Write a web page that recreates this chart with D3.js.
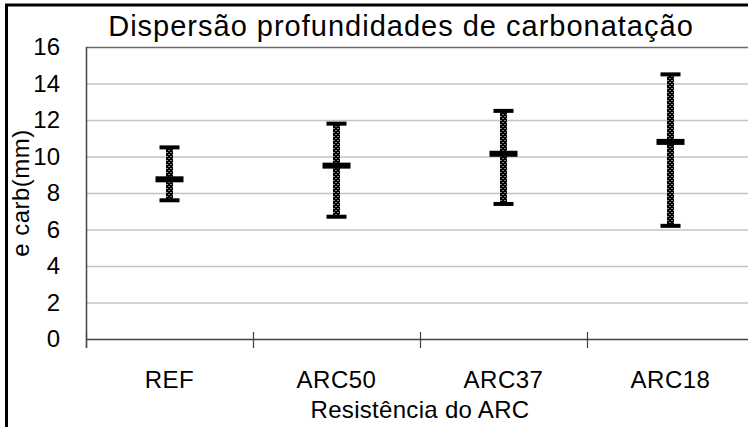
<!DOCTYPE html>
<html>
<head>
<meta charset="utf-8">
<script src="https://cdn.jsdelivr.net/npm/d3@7"></script>
<style>
  body { margin: 0; background: #fff; }
  svg { display: block; font-family: "Liberation Sans", Arial, sans-serif; }
</style>
</head>
<body>
<div id="chart"></div>
<script>
// data
const categories = ["REF", "ARC50", "ARC37", "ARC18"];
const meanValues = [8.75, 9.5, 10.15, 10.8];
const minValues = [7.6, 6.7, 7.4, 6.2];
const maxValues = [10.5, 11.8, 12.5, 14.5];
const yTicks = [0, 2, 4, 6, 8, 10, 12, 14, 16];

const width = 748, height = 427;
const plot = { left: 86, right: 754, top: 47, bottom: 339 };

const svg = d3.select("#chart").append("svg")
  .attr("width", width)
  .attr("height", height);

// dotted fill for the vertical bars
const defs = svg.append("defs");
const pat = defs.append("pattern")
  .attr("id", "dots")
  .attr("patternUnits", "userSpaceOnUse")
  .attr("width", 4).attr("height", 4);
pat.append("rect").attr("width", 4).attr("height", 4).attr("fill", "#000");
pat.append("rect").attr("x", 1).attr("y", 0).attr("width", 1).attr("height", 1).attr("fill", "#fff");
pat.append("rect").attr("x", 3).attr("y", 2).attr("width", 1).attr("height", 1).attr("fill", "#fff");

const x = d3.scaleBand().domain(categories).range([plot.left, plot.right]).padding(0);
const y = d3.scaleLinear().domain([0, 16]).range([plot.bottom, plot.top]);

// outer frame (only left / top visible)
svg.append("rect")
  .attr("x", 6.5).attr("y", 5)
  .attr("width", 900).attr("height", 600)
  .attr("fill", "none")
  .attr("stroke", "#000")
  .attr("stroke-width", 3);

// gridlines
svg.append("g")
  .selectAll("line")
  .data(yTicks.filter(d => d > 0 && d < 16))
  .enter().append("line")
  .attr("x1", plot.left).attr("x2", plot.right)
  .attr("y1", d => y(d) + 0.5).attr("y2", d => y(d) + 0.5)
  .attr("stroke", "#c4c4c4")
  .attr("stroke-width", 1.5);

// plot area top border
svg.append("line")
  .attr("x1", plot.left).attr("x2", plot.right)
  .attr("y1", y(16) + 0.5).attr("y2", y(16) + 0.5)
  .attr("stroke", "#6a6a6a").attr("stroke-width", 1.5);

// y axis
const yAxis = svg.append("g")
  .attr("transform", `translate(${plot.left},0)`)
  .call(d3.axisLeft(y).tickValues(yTicks).tickSize(0).tickPadding(26));
yAxis.select(".domain").remove();
yAxis.append("line")
  .attr("x1", 0.5).attr("x2", 0.5)
  .attr("y1", plot.top).attr("y2", plot.bottom + 9)
  .attr("stroke", "#444").attr("stroke-width", 1.5);
yAxis.selectAll("text")
  .attr("font-size", "24px")
  .attr("fill", "#000")
  .attr("font-family", "Liberation Sans, Arial, sans-serif");

// x axis with crossing ticks at band edges
const xg = svg.append("g");
xg.append("line")
  .attr("x1", plot.left).attr("x2", plot.right)
  .attr("y1", plot.bottom + 0.5).attr("y2", plot.bottom + 0.5)
  .attr("stroke", "#444").attr("stroke-width", 1.5);
xg.selectAll("line.tick")
  .data(categories)
  .enter().append("line")
  .attr("class", "tick")
  .attr("x1", d => x(d) + 0.5).attr("x2", d => x(d) + 0.5)
  .attr("y1", plot.bottom - 7).attr("y2", plot.bottom + 9)
  .attr("stroke", "#444").attr("stroke-width", 1.2);
xg.selectAll("text")
  .data(categories)
  .enter().append("text")
  .attr("x", d => x(d) + x.bandwidth() / 2)
  .attr("y", 388)
  .attr("text-anchor", "middle")
  .attr("font-size", "24px")
  .style("letter-spacing", "0.5px")
  .text(d => d);

// error bars
const bars = svg.append("g").selectAll("g")
  .data(categories.map((c, i) => ({ cat: c, mean: meanValues[i], min: minValues[i], max: maxValues[i] })))
  .enter().append("g")
  .attr("transform", d => `translate(${x(d.cat) + x.bandwidth() / 2},0)`);

bars.append("rect")
  .attr("x", -3.5).attr("width", 7)
  .attr("y", d => y(d.max)).attr("height", d => y(d.min) - y(d.max))
  .attr("fill", "url(#dots)");
bars.append("rect")
  .attr("x", -10).attr("width", 20)
  .attr("y", d => y(d.max) - 2).attr("height", 4)
  .attr("fill", "#000");
bars.append("rect")
  .attr("x", -10).attr("width", 20)
  .attr("y", d => y(d.min) - 2).attr("height", 4)
  .attr("fill", "#000");
bars.append("rect")
  .attr("x", -14).attr("width", 28)
  .attr("y", d => y(d.mean) - 3).attr("height", 6)
  .attr("fill", "#000");

// title
svg.append("text")
  .attr("x", 401).attr("y", 36)
  .attr("text-anchor", "middle")
  .attr("font-size", "29px")
  .style("letter-spacing", "1px")
  .text("Dispersão profundidades de carbonatação");

// axis titles
svg.append("text")
  .attr("x", 420).attr("y", 418)
  .attr("text-anchor", "middle")
  .attr("font-size", "24px")
  .style("letter-spacing", "0.3px")
  .text("Resistência do ARC");

svg.append("text")
  .attr("transform", "translate(29,193) rotate(-90)")
  .attr("text-anchor", "middle")
  .attr("font-size", "24px")
  .style("letter-spacing", "0.5px")
  .text("e carb(mm)");
</script>
</body>
</html>
